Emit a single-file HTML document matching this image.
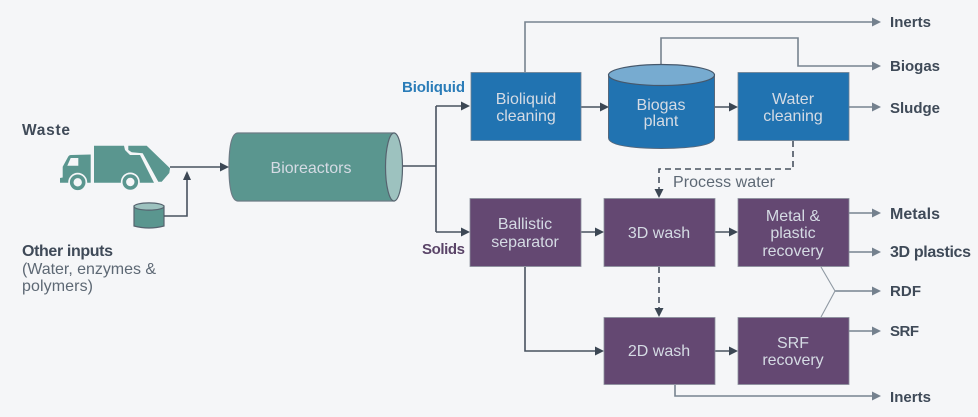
<!DOCTYPE html>
<html>
<head>
<meta charset="utf-8">
<style>
html,body{margin:0;padding:0;background:#f5f6f8;}
svg{display:block;filter:blur(.35px);}
text{font-family:"Liberation Sans",sans-serif;}
.w{fill:#d5dbe4;font-size:16px;text-anchor:middle;}
.l{fill:#3f4a58;font-size:15px;font-weight:bold;}
.r{fill:#5d6874;font-size:16px;}
.d{stroke:#48525f;stroke-width:1.6;fill:none;}
.g{stroke:#77838f;stroke-width:1.6;fill:none;}
.a{fill:#3c4754;}
.b{fill:#74818e;}
.bx{fill:#2173b1;stroke:#6f8091;stroke-width:.8;}
.px{fill:#644872;stroke:#8a8f9c;stroke-width:.8;}
</style>
</head>
<body>
<svg width="978" height="417" viewBox="0 0 978 417" xmlns="http://www.w3.org/2000/svg">
<rect width="978" height="417" fill="#f5f6f8"/>

<!-- Truck -->
<g fill="#5a968f">
<path d="M60 182.700V178L62.700 177.500V166.700L68 157Q69 155 71 155L90.700 154.500V182.700Z"/>
<path d="M94 145.700H124L125 150L130 155H140L154 182.700H94Z"/>
<path d="M128.300 145.700H146.700L170 168.300L169.300 173L161.700 181.700H158.300L142.700 153.300L131.700 152.300L128.300 150Z"/>
</g>
<path d="M67.300 165.700L70.700 158H78.300V165.700Z" fill="#f5f6f8"/>
<circle cx="77.700" cy="182.300" r="9.500" fill="#f5f6f8"/>
<circle cx="130.300" cy="182" r="9.500" fill="#f5f6f8"/>
<circle cx="77.700" cy="182.300" r="6" fill="none" stroke="#5a968f" stroke-width="3.600"/>
<circle cx="130.300" cy="182" r="6" fill="none" stroke="#5a968f" stroke-width="3.600"/>

<!-- Small cylinder -->
<path d="M134 206V226Q149 230 164 226V206z" fill="#5a968f" stroke="#56636f" stroke-width="1.200"/>
<ellipse cx="149" cy="206.500" rx="15" ry="3.600" fill="#9dc2bf" stroke="#56636f" stroke-width="1.200"/>

<!-- Bioreactor -->
<path d="M394 133H238q-9 0-9 34t9 34h156z" fill="#5a968f" stroke="#6c7b85" stroke-width="1.2"/>
<ellipse cx="394" cy="167" rx="8.500" ry="34" fill="#9dc2bf" stroke="#56636f" stroke-width="1.2"/>
<text class="w" x="311" y="173">Bioreactors</text>

<!-- Dark connectors -->
<path class="d" d="M170 167H222M164 216H187V177M403 166H436M436 106V232M436 106H464M436 232H464M581 107H603M714 107H732M581 232H598M715 232H732M525 267V351H598M715 351H732"/>
<path class="d" stroke-dasharray="6 4" d="M793 141V169H659V192M659 267V311"/>
<g class="a">
<path d="M229 167l-9-4.500v9z"/>
<path d="M187 171l-4 9h8z"/>
<path d="M470 106l-9-4.500v9z"/>
<path d="M470 232l-9-4.500v9z"/>
<path d="M609 107l-9-4.500v9z"/>
<path d="M738 107l-9-4.500v9z"/>
<path d="M604 232l-9-4.500v9z"/>
<path d="M738 232l-9-4.500v9z"/>
<path d="M604 351l-9-4.500v9z"/>
<path d="M738 351l-9-4.500v9z"/>
<path d="M659 198l-4.500-9h9z"/>
<path d="M659 317l-4.500-9h9z"/>
</g>

<!-- Grey connectors -->
<path class="g" d="M525 72V22H875M661 65V38H798V66H875M849 107H875M849 213H875M849 252H875M835 291H875M849 331H875M675 385V396H875"/>
<path d="M821 267L835 291L821 317" fill="none" stroke="#8f99a3" stroke-width="1.1"/>
<g class="b">
<path d="M881 22l-9-4.500v9z"/>
<path d="M881 66l-9-4.500v9z"/>
<path d="M881 107l-9-4.500v9z"/>
<path d="M881 213l-9-4.500v9z"/>
<path d="M881 252l-9-4.500v9z"/>
<path d="M881 291l-9-4.500v9z"/>
<path d="M881 331l-9-4.500v9z"/>
<path d="M881 396l-9-4.500v9z"/>
</g>

<!-- Blue boxes -->
<rect class="bx" x="471" y="72.500" width="110" height="68"/>
<rect class="bx" x="738" y="72.500" width="111" height="68"/>
<path d="M608.500 75V138Q609 148 661.500 148.500Q714 148 714.500 138V75z" fill="#2173b1" stroke="#56687c" stroke-width="1"/>
<ellipse cx="661.500" cy="75" rx="53" ry="10.500" fill="#77abd0" stroke="#46586c" stroke-width="1.200"/>

<!-- Purple boxes -->
<rect class="px" x="470" y="198.500" width="111" height="68"/>
<rect class="px" x="604" y="198.500" width="111" height="68"/>
<rect class="px" x="738" y="198.500" width="111" height="68"/>
<rect class="px" x="604" y="317.500" width="111" height="67"/>
<rect class="px" x="738" y="317.500" width="111" height="67"/>

<!-- Box labels -->
<text class="w" x="526" y="104">Bioliquid</text>
<text class="w" x="526" y="121">cleaning</text>
<text class="w" x="661" y="110">Biogas</text>
<text class="w" x="661" y="126">plant</text>
<text class="w" x="793" y="104">Water</text>
<text class="w" x="793" y="121">cleaning</text>
<text class="w" x="525" y="229">Ballistic</text>
<text class="w" x="525" y="247">separator</text>
<text class="w" x="659" y="238">3D wash</text>
<text class="w" x="793" y="221">Metal &amp;</text>
<text class="w" x="793" y="238">plastic</text>
<text class="w" x="793" y="256">recovery</text>
<text class="w" x="659" y="356">2D wash</text>
<text class="w" x="793" y="348">SRF</text>
<text class="w" x="793" y="365">recovery</text>

<!-- Outer labels -->
<text class="l" x="890" y="27" textLength="41">Inerts</text>
<text class="l" x="890" y="71" textLength="50">Biogas</text>
<text class="l" x="890" y="113" textLength="50">Sludge</text>
<text class="l" x="890" y="219" font-size="16" style="font-size:16px" textLength="50">Metals</text>
<text class="l" x="890" y="257" style="font-size:16px" textLength="81">3D plastics</text>
<text class="l" x="890" y="296" textLength="31">RDF</text>
<text class="l" x="890" y="336" textLength="29">SRF</text>
<text class="l" x="890" y="402" textLength="41">Inerts</text>
<text x="402" y="92" font-size="15" font-weight="bold" fill="#2a7cb8" textLength="63">Bioliquid</text>
<text x="422" y="254" font-size="15" font-weight="bold" fill="#5a4468" textLength="43">Solids</text>
<text class="r" x="673" y="187" textLength="102">Process water</text>
<text class="l" x="22" y="135" style="font-size:15.500px" textLength="48">Waste</text>
<text class="l" x="22" y="256" style="font-size:16px" textLength="91">Other inputs</text>
<text class="r" x="22" y="274" textLength="134">(Water, enzymes &amp;</text>
<text class="r" x="22" y="291" textLength="71">polymers)</text>
</svg>
</body>
</html>
